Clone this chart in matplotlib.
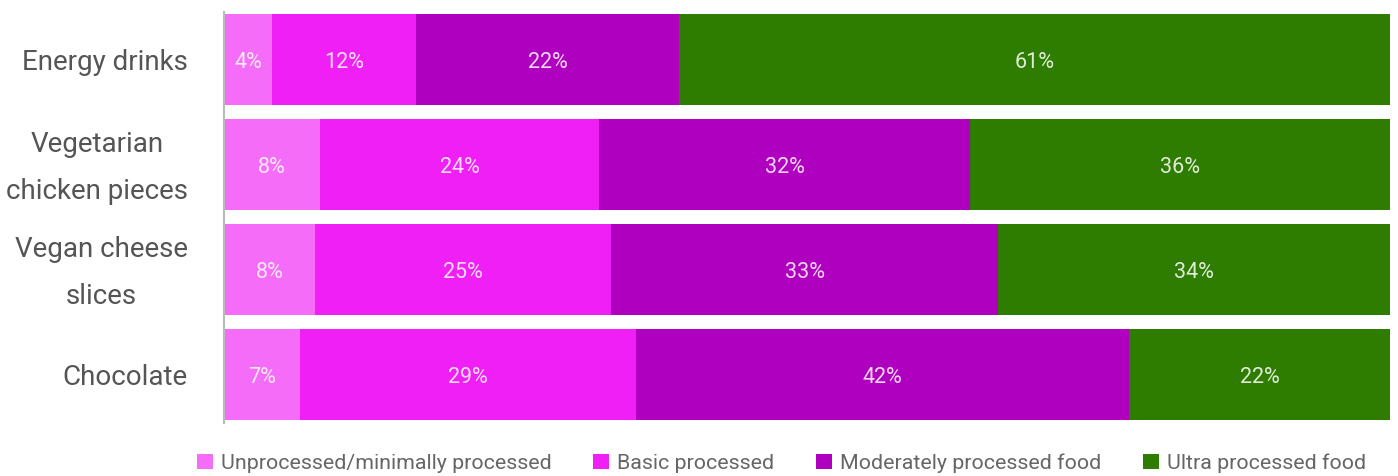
import matplotlib.pyplot as plt
import matplotlib.transforms as mtransforms
import numpy as np

# Data
categories = ['Energy drinks', 'Vegetarian\nchicken pieces', 'Vegan cheese\nslices', 'Chocolate']
series_names = ['Unprocessed/minimally processed', 'Basic processed',
                'Moderately processed food', 'Ultra processed food']
unprocessed = [4.1, 8.2, 7.8, 6.5]
basic = [12.4, 24.0, 25.4, 28.8]
moderate = [22.5, 31.8, 33.2, 42.3]
ultra = [61.0, 36.0, 33.6, 22.4]
labels = [['4%', '8%', '8%', '7%'],
          ['12%', '24%', '25%', '29%'],
          ['22%', '32%', '33%', '42%'],
          ['61%', '36%', '34%', '22%']]

colors = ['#f46cf8', '#ef1ff6', '#b000bf', '#2e7d00']

# Font
plt.rcParams['font.family'] = ['Roboto', 'DejaVu Sans']

fig = plt.figure(figsize=(13.98, 4.76), dpi=100)
ax = fig.add_axes([224 / 1398, 1 - 423 / 476, (1390 - 224) / 1398, (423 - 12) / 476])

data = np.array([unprocessed, basic, moderate, ultra])
shares = data / data.sum(axis=0) * 100
y = np.arange(len(categories))
left = np.zeros(len(categories))
for i, name in enumerate(series_names):
    bars = ax.barh(y, shares[i], left=left, height=0.86, color=colors[i], label=name)
    for j, b in enumerate(bars):
        ax.text(b.get_x() + b.get_width() / 2, y[j] + 0.03, labels[i][j],
                ha='center', va='center', color='white', alpha=0.85, fontsize=15.5)
    left += shares[i]

ax.set_xlim(0, 100)
ax.set_ylim(3.46, -0.45)
ax.set_yticks(y)
ax.set_yticklabels(categories, fontsize=20, color='#555555', linespacing=1.95,
                   multialignment='center')
ax.tick_params(axis='y', length=0, pad=26)
# lift the two-line labels a little
shift = mtransforms.ScaledTranslation(0, 7 / 72, fig.dpi_scale_trans)
for t in ax.get_yticklabels():
    if '\n' in t.get_text():
        t.set_transform(t.get_transform() + shift)
ax.set_xticks([])
for s in ['top', 'right', 'bottom']:
    ax.spines[s].set_visible(False)
ax.spines['left'].set_color('#bbbbbb')
ax.spines['left'].set_linewidth(1.5)

leg = fig.legend(loc='center', bbox_to_anchor=(0.559, 0.027), ncol=4, frameon=False,
                 fontsize=15.4, handlelength=0.75, handleheight=0.75, handletextpad=0.37,
                 columnspacing=1.96, labelcolor='#666666')

fig.savefig('out.png', dpi=100)
